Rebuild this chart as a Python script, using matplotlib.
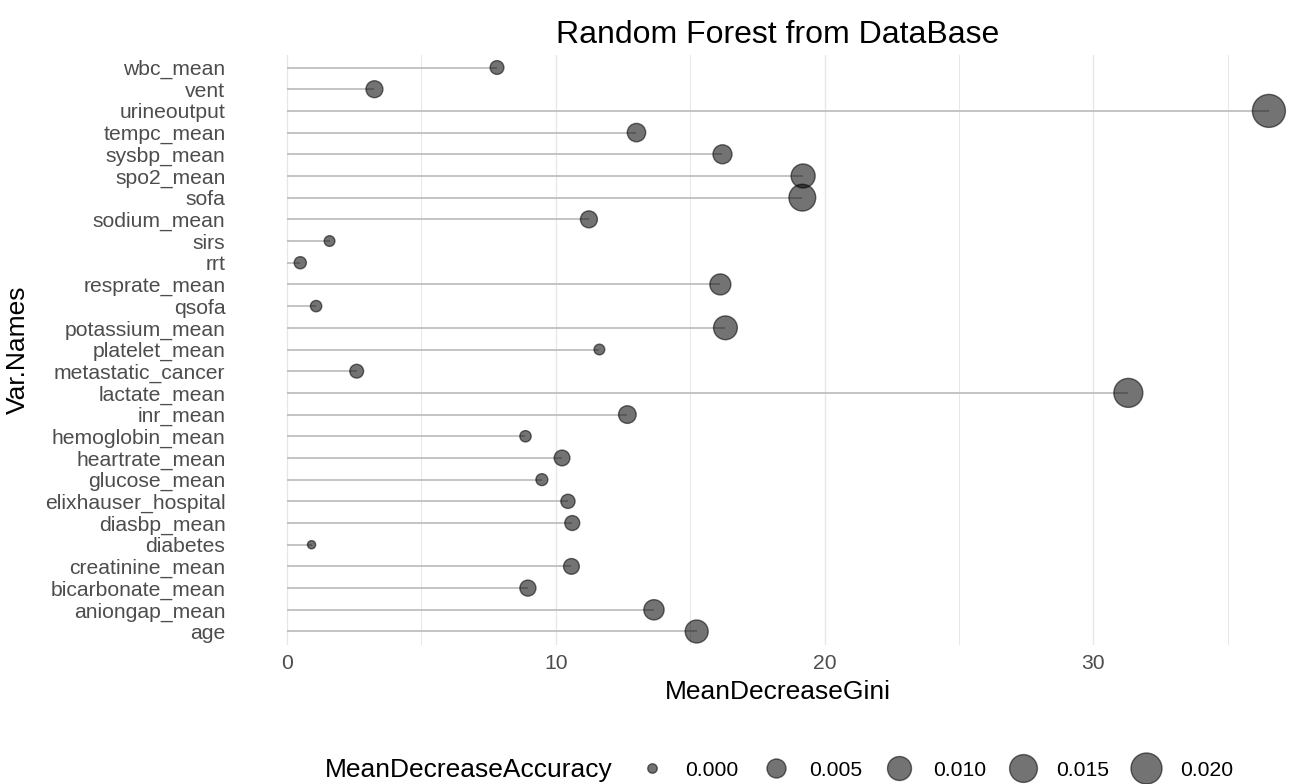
import numpy as np
import matplotlib
matplotlib.use("Agg")
import matplotlib.pyplot as plt
from matplotlib.lines import Line2D

plt.rcParams["font.family"] = ["Liberation Sans", "DejaVu Sans"]

# data (alphabetical; first entry is drawn at the bottom)
var_names = [
    "age", "aniongap_mean", "bicarbonate_mean", "creatinine_mean", "diabetes",
    "diasbp_mean", "elixhauser_hospital", "glucose_mean", "heartrate_mean",
    "hemoglobin_mean", "inr_mean", "lactate_mean", "metastatic_cancer",
    "platelet_mean", "potassium_mean", "qsofa", "resprate_mean", "rrt", "sirs",
    "sodium_mean", "sofa", "spo2_mean", "sysbp_mean", "tempc_mean",
    "urineoutput", "vent", "wbc_mean",
]
mean_decrease_gini = [
    15.24, 13.65, 8.96, 10.58, 0.91,
    10.61, 10.45, 9.48, 10.23,
    8.87, 12.66, 31.30, 2.59,
    11.62, 16.31, 1.08, 16.12, 0.49, 1.58,
    11.23, 19.17, 19.20, 16.20, 13.00,
    36.53, 3.25, 7.81,
]
mean_decrease_accuracy = [
    0.0089, 0.0061, 0.0028, 0.0026, -0.0002,
    0.0021, 0.0017, 0.0007, 0.0026,
    0.0005, 0.0039, 0.0168, 0.0015,
    0.0003, 0.0098, 0.0005, 0.0068, 0.0008, 0.0003,
    0.0034, 0.0136, 0.0101, 0.0050, 0.0045,
    0.0234, 0.0034, 0.0015,
]
legend_breaks = [0.000, 0.005, 0.010, 0.015, 0.020]

DPI = 100
POINT_COLOR = (0, 0, 0, 0.55)
SEGMENT_COLOR = "#bfbfbf"
GRID_COLOR = "#e6e6e6"
TICK_COLOR = "#4d4d4d"


def size_px(acc):
    # area-style size scale: diameter grows with sqrt of accuracy
    return 6.5 + 172 * np.sqrt(np.asarray(acc) + 0.0003)


def diam_pt(acc):
    return size_px(acc) * 72 / DPI


fig = plt.figure(figsize=(12.89, 7.84), dpi=DPI)
ax = fig.add_axes([238 / 1289, 139.5 / 784, 1080 / 1289, 590 / 784])

ypos = np.arange(len(var_names))
gini = np.array(mean_decrease_gini)

ax.hlines(ypos, 0, gini, color=SEGMENT_COLOR, linewidth=1.3, zorder=2)
ax.scatter(
    gini, ypos,
    s=diam_pt(mean_decrease_accuracy) ** 2,
    facecolor=POINT_COLOR, edgecolor=POINT_COLOR, linewidth=1.0,
    zorder=3,
)

xmax = gini.max()
ax.set_xlim(-0.05 * xmax, xmax * 1.05)
ax.set_ylim(-0.6, len(var_names) - 0.4)

ax.set_xticks([0, 10, 20, 30])
ax.set_xticks([5, 15, 25, 35], minor=True)
ax.set_yticks(ypos)
ax.set_yticklabels(var_names)
ax.grid(axis="x", which="major", color=GRID_COLOR, linewidth=0.9, zorder=0)
ax.grid(axis="x", which="minor", color=GRID_COLOR, linewidth=0.7, zorder=0)
ax.set_axisbelow(True)
for sp in ax.spines.values():
    sp.set_visible(False)
ax.tick_params(axis="both", which="both", length=0, labelsize=15.2,
               labelcolor=TICK_COLOR)
ax.tick_params(axis="y", pad=9)
ax.tick_params(axis="x", pad=7)

ax.set_title("Random Forest from DataBase", fontsize=23, pad=8)
ax.set_xlabel("MeanDecreaseGini", fontsize=19, labelpad=5)
fig.text(18 / 1289, 1 - 349.5 / 784, "Var.Names", rotation=90,
         ha="center", va="center", fontsize=19)

# size legend along the bottom
leg_y = 1 - 770 / 784
fig.text(325 / 1289, leg_y, "MeanDecreaseAccuracy", ha="left", va="center",
         fontsize=19)
handles = [
    Line2D([], [], linestyle="none", marker="o", markersize=float(diam_pt(b)),
           markerfacecolor=POINT_COLOR, markeredgecolor=POINT_COLOR,
           markeredgewidth=1.0)
    for b in legend_breaks
]
fig.legend(
    handles, [f"{b:.3f}" for b in legend_breaks],
    loc="center left", bbox_to_anchor=(636 / 1289, leg_y),
    ncol=5, frameon=False, fontsize=15.2,
    handlelength=1.5, handletextpad=0.84, columnspacing=1.0,
    borderpad=0, borderaxespad=0,
)

fig.savefig("out.png", dpi=DPI, facecolor="white")
